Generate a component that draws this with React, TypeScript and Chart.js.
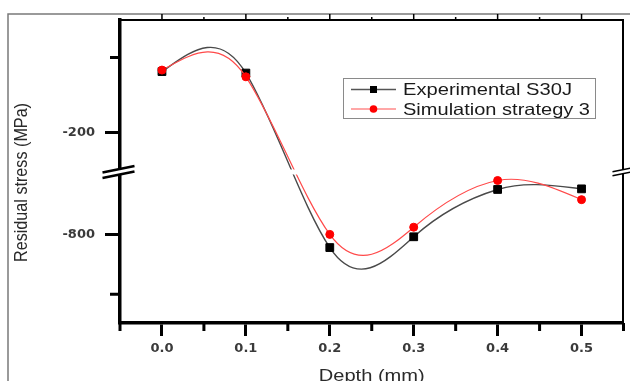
import React, { useEffect, useRef } from 'react';
import { Chart, registerables, LinearScale } from 'chart.js';

// ---------------- data ----------------
const depths = [0.0, 0.1, 0.2, 0.3, 0.4, 0.5];
const experimentalS30J = [-119, -121, -822, -804, -725, -724];
const simulationStrategy3 = [-117, -126, -800, -788, -710, -742];
const seriesLabels = ['Experimental S30J', 'Simulation strategy 3'];

const xMajorTicks = [0.0, 0.1, 0.2, 0.3, 0.4, 0.5];
const xMinorTicks = [-0.05, 0.05, 0.15, 0.25, 0.35, 0.45, 0.55];
const yMajorTicks = [-800, -200];
const yMinorTicks = [-900, -100];

const xTitle = 'Depth (mm)';
const yTitle = 'Residual stress (MPa)';

// broken y axis: lower and upper segments (values)
const lowerSegment = [-948, -700];
const upperSegment = [-250, -50];

// ---------------- layout constants ----------------
const LOWER_TOP_FRACTION = 0.4901; // share of plot height used by the lower segment
const UPPER_BOTTOM_FRACTION = 0.5066; // where the upper segment starts
const TANGENT_FACTOR = 1.15; // spline stiffness at interior points
const FONT = "'Liberation Sans', Arial, sans-serif";

class BrokenScale extends LinearScale {
  static id = 'broken';
  static defaults = LinearScale.defaults;

  determineDataLimits() {
    this.min = lowerSegment[0];
    this.max = upperSegment[1];
  }

  buildTicks() {
    return yMajorTicks.map((v) => ({ value: v }));
  }

  _breaks() {
    const h = this.bottom - this.top;
    return {
      lowTop: this.bottom - h * LOWER_TOP_FRACTION,
      upBottom: this.bottom - h * UPPER_BOTTOM_FRACTION,
    };
  }

  getPixelForValue(value: number) {
    const { lowTop, upBottom } = this._breaks();
    const [l0, l1] = lowerSegment;
    const [u0, u1] = upperSegment;
    if (value <= l1) return this.bottom - ((value - l0) / (l1 - l0)) * (this.bottom - lowTop);
    if (value >= u0) return upBottom - ((value - u0) / (u1 - u0)) * (upBottom - this.top);
    return lowTop - ((value - l1) / (u0 - l1)) * (lowTop - upBottom);
  }

  getValueForPixel(pixel: number) {
    const { lowTop, upBottom } = this._breaks();
    const [l0, l1] = lowerSegment;
    const [u0, u1] = upperSegment;
    if (pixel >= lowTop) return l0 + ((this.bottom - pixel) / (this.bottom - lowTop)) * (l1 - l0);
    if (pixel <= upBottom) return u0 + ((upBottom - pixel) / (upBottom - this.top)) * (u1 - u0);
    return l1 + ((lowTop - pixel) / (lowTop - upBottom)) * (u0 - l1);
  }
}

Chart.register(...registerables, BrokenScale);

// natural cubic spline through the (pixel) points of each line
const naturalSplinePlugin = {
  id: 'naturalSpline',
  beforeDatasetDraw(chart: any, args: any) {
    const line = args.meta.dataset;
    if (!line) return;
    const pts = line.points;
    const n = pts.length;
    if (n < 3) return;
    const xs = pts.map((p: any) => p.x);
    const ys = pts.map((p: any) => p.y);
    const h: number[] = [];
    for (let i = 0; i < n - 1; i++) h.push(xs[i + 1] - xs[i]);
    const a: number[] = [], b: number[] = [], c: number[] = [], d: number[] = [];
    for (let i = 1; i < n - 1; i++) {
      a.push(h[i - 1]);
      b.push(2 * (h[i - 1] + h[i]));
      c.push(h[i]);
      d.push(6 * ((ys[i + 1] - ys[i]) / h[i] - (ys[i] - ys[i - 1]) / h[i - 1]));
    }
    const m = n - 2;
    for (let i = 1; i < m; i++) {
      const w = a[i] / b[i - 1];
      b[i] -= w * c[i - 1];
      d[i] -= w * d[i - 1];
    }
    const M = new Array(n).fill(0);
    M[m] = d[m - 1] / b[m - 1];
    for (let i = m - 2; i >= 0; i--) M[i + 1] = (d[i] - c[i] * M[i + 2]) / b[i];
    const slope = (i: number) => {
      const s =
        i < n - 1
          ? (ys[i + 1] - ys[i]) / h[i] - (h[i] * (2 * M[i] + M[i + 1])) / 6
          : (ys[n - 1] - ys[n - 2]) / h[n - 2] + (h[n - 2] * (M[n - 2] + 2 * M[n - 1])) / 6;
      return i > 0 && i < n - 1 ? s * TANGENT_FACTOR : s;
    };
    for (let i = 0; i < n; i++) {
      const s = slope(i);
      if (i < n - 1) {
        pts[i].cp2x = xs[i] + h[i] / 3;
        pts[i].cp2y = ys[i] + (s * h[i]) / 3;
      }
      if (i > 0) {
        pts[i].cp1x = xs[i] - h[i - 1] / 3;
        pts[i].cp1y = ys[i] - (s * h[i - 1]) / 3;
      }
    }
  },
};

function stretchedText(
  ctx: CanvasRenderingContext2D,
  text: string,
  x: number,
  y: number,
  size: number,
  targetWidth: number,
  align: 'left' | 'center',
  color: string
) {
  ctx.save();
  ctx.font = `${size}px ${FONT}`;
  const w = ctx.measureText(text).width;
  const sx = targetWidth / w;
  ctx.translate(x, y);
  ctx.scale(sx, 1);
  ctx.fillStyle = color;
  ctx.textAlign = align;
  ctx.textBaseline = 'alphabetic';
  ctx.fillText(text, 0, 0);
  ctx.restore();
}

const decorPlugin = {
  id: 'decor',
  beforeDraw(chart: any) {
    const { ctx, width, height } = chart;
    ctx.save();
    ctx.fillStyle = '#fff';
    ctx.fillRect(0, 0, width, height);
    ctx.strokeStyle = '#7a7a7a';
    ctx.lineWidth = 1.5;
    ctx.beginPath();
    ctx.moveTo(8, height);
    ctx.lineTo(8, 14);
    ctx.lineTo(width, 14);
    ctx.stroke();
    ctx.restore();
  },
  afterDatasetsDraw(chart: any) {
    const { ctx, chartArea } = chart;
    const xs = chart.scales.x;
    const ys = chart.scales.y;
    const { left, right, top, bottom } = chartArea;
    ctx.save();

    // gap of the broken axis across the plot
    const gapTop = ys.getPixelForValue(upperSegment[0]);
    const gapBottom = ys.getPixelForValue(lowerSegment[1]);
    ctx.fillStyle = '#fff';
    ctx.fillRect(left + 2, gapTop, right - left - 3, gapBottom - gapTop);
    const breakY = (gapTop + gapBottom) / 2;

    // top and right axes
    ctx.strokeStyle = '#000';
    ctx.lineWidth = 2;
    ctx.beginPath();
    ctx.moveTo(left, top);
    ctx.lineTo(right, top);
    ctx.moveTo(right - 0.5, top - 1);
    ctx.lineTo(right - 0.5, bottom);
    ctx.stroke();

    // top ticks (outward)
    ctx.lineWidth = 1.5;
    ctx.beginPath();
    xMajorTicks.forEach((v) => {
      const px = xs.getPixelForValue(v);
      ctx.moveTo(px, top);
      ctx.lineTo(px, top - 6);
    });
    xMinorTicks.forEach((v) => {
      const px = xs.getPixelForValue(v);
      if (px <= left + 2 || px >= right - 2) return;
      ctx.moveTo(px, top);
      ctx.lineTo(px, top - 3);
    });
    ctx.stroke();

    // bottom minor ticks
    ctx.lineWidth = 3;
    ctx.beginPath();
    xMinorTicks.forEach((v) => {
      const px = xs.getPixelForValue(v);
      ctx.moveTo(px, bottom);
      ctx.lineTo(px, bottom + 8);
    });
    // left minor ticks
    yMinorTicks.forEach((v) => {
      const py = ys.getPixelForValue(v);
      ctx.moveTo(left - 1, py);
      ctx.lineTo(left - 10, py);
    });
    ctx.stroke();

    // break marks
    const drawBreak = (cx: number, half: number, sep: number, lw: number) => {
      const k = 0.2;
      ctx.fillStyle = '#fff';
      ctx.beginPath();
      ctx.moveTo(cx - half, breakY - sep / 2 + half * k);
      ctx.lineTo(cx + half, breakY - sep / 2 - half * k);
      ctx.lineTo(cx + half, breakY + sep / 2 - half * k);
      ctx.lineTo(cx - half, breakY + sep / 2 + half * k);
      ctx.closePath();
      ctx.fill();
      ctx.strokeStyle = '#000';
      ctx.lineWidth = lw;
      ctx.beginPath();
      ctx.moveTo(cx - half, breakY - sep / 2 + half * k);
      ctx.lineTo(cx + half, breakY - sep / 2 - half * k);
      ctx.moveTo(cx - half, breakY + sep / 2 + half * k);
      ctx.lineTo(cx + half, breakY + sep / 2 - half * k);
      ctx.stroke();
    };
    drawBreak(left - 1.5, 16, 5.5, 2.5);
    drawBreak(right - 2, 9, 4, 1.5);

    // legend
    const lx = 343.5, ly = 78.5, lw = 252, lh = 40;
    ctx.fillStyle = '#fff';
    ctx.fillRect(lx, ly, lw, lh);
    ctx.strokeStyle = '#8a8a8a';
    ctx.lineWidth = 1;
    ctx.strokeRect(lx, ly, lw, lh);
    const rows = [
      { y: 89.5, line: '#555', marker: 'rect', color: '#000', text: seriesLabels[0], width: 169 },
      { y: 109, line: '#ff8a8a', marker: 'circle', color: '#f00', text: seriesLabels[1], width: 187 },
    ];
    rows.forEach((r) => {
      ctx.strokeStyle = r.line;
      ctx.lineWidth = 1.3;
      ctx.beginPath();
      ctx.moveTo(351, r.y);
      ctx.lineTo(396, r.y);
      ctx.stroke();
      ctx.fillStyle = r.color;
      if (r.marker === 'rect') {
        ctx.fillRect(373.5 - 3.5, r.y - 3.5, 7, 7);
      } else {
        ctx.beginPath();
        ctx.arc(373.5, r.y, 3.8, 0, Math.PI * 2);
        ctx.fill();
      }
      stretchedText(ctx, r.text, 403, r.y + 5.6, 16.5, r.width, 'left', '#1a1a1a');
    });

    // x title
    stretchedText(ctx, xTitle, (left + right) / 2, 380.5, 16.5, 106, 'center', '#2a2a2a');

    // y title (rotated)
    ctx.save();
    ctx.font = `16px ${FONT}`;
    const tw = ctx.measureText(yTitle).width;
    ctx.translate(26.5, 182.5);
    ctx.rotate(-Math.PI / 2);
    ctx.scale(159 / tw, 1.2);
    ctx.fillStyle = '#2a2a2a';
    ctx.textAlign = 'center';
    ctx.textBaseline = 'alphabetic';
    ctx.fillText(yTitle, 0, 0);
    ctx.restore();

    ctx.restore();
  },
};

export default function App() {
  const canvasRef = useRef<HTMLCanvasElement | null>(null);

  useEffect(() => {
    document.body.style.margin = '0';
    const canvas = canvasRef.current;
    if (!canvas) return;
    const tickFont = { family: "'DejaVu Sans', sans-serif", size: 13, weight: 'bold' };
    const chart = new Chart(canvas, {
      type: 'line',
      data: {
        datasets: [
          {
            label: seriesLabels[0],
            data: depths.map((x, i) => ({ x, y: experimentalS30J[i] })),
            borderColor: '#4a4a4a',
            borderWidth: 1.4,
            tension: 0.3,
            pointStyle: 'rect',
            pointRadius: 5.5,
            pointBackgroundColor: '#000',
            pointBorderColor: '#000',
            pointBorderWidth: 1,
            order: 2,
          },
          {
            label: seriesLabels[1],
            data: depths.map((x, i) => ({ x, y: simulationStrategy3[i] })),
            borderColor: '#ff4a4a',
            borderWidth: 1.2,
            tension: 0.3,
            pointStyle: 'circle',
            pointRadius: 4,
            pointBackgroundColor: '#f00',
            pointBorderColor: '#f00',
            pointBorderWidth: 1,
            order: 1,
          },
        ],
      } as any,
      options: {
        animation: false,
        responsive: false,
        devicePixelRatio: 1,
        layout: { padding: { left: 0, top: 20, right: 3, bottom: 0 } },
        plugins: { legend: { display: false }, tooltip: { enabled: false } },
        scales: {
          x: {
            type: 'linear',
            position: 'bottom',
            min: -0.05,
            max: 0.55,
            afterBuildTicks: (s: any) => {
              s.ticks = xMajorTicks.map((v) => ({ value: v }));
            },
            afterFit: (s: any) => {
              s.height = 58;
            },
            grid: {
              display: true,
              drawOnChartArea: false,
              drawTicks: true,
              tickLength: 13,
              tickWidth: 3,
              tickColor: '#000',
            },
            border: { display: true, width: 3.5, color: '#000' },
            ticks: {
              padding: 5,
              font: tickFont,
              color: '#3a3a3a',
              maxRotation: 0,
              autoSkip: false,
              callback: (v: any) => Number(v).toFixed(1),
            },
          },
          y: {
            type: 'broken',
            position: 'left',
            afterFit: (s: any) => {
              s.width = 120;
            },
            grid: {
              display: true,
              drawOnChartArea: false,
              drawTicks: true,
              tickLength: 15,
              tickWidth: 3,
              tickColor: '#000',
            },
            border: { display: true, width: 3.5, color: '#000' },
            ticks: {
              padding: 10,
              font: tickFont,
              color: '#3a3a3a',
              autoSkip: false,
              callback: (v: any) => String(v),
            },
          },
        },
      } as any,
      plugins: [naturalSplinePlugin, decorPlugin],
    });
    return () => chart.destroy();
  }, []);

  return (
    <div style={{ width: 630, height: 381, position: 'relative' }}>
      <canvas ref={canvasRef} width={630} height={381} style={{ width: 630, height: 381, display: 'block' }} />
    </div>
  );
}
